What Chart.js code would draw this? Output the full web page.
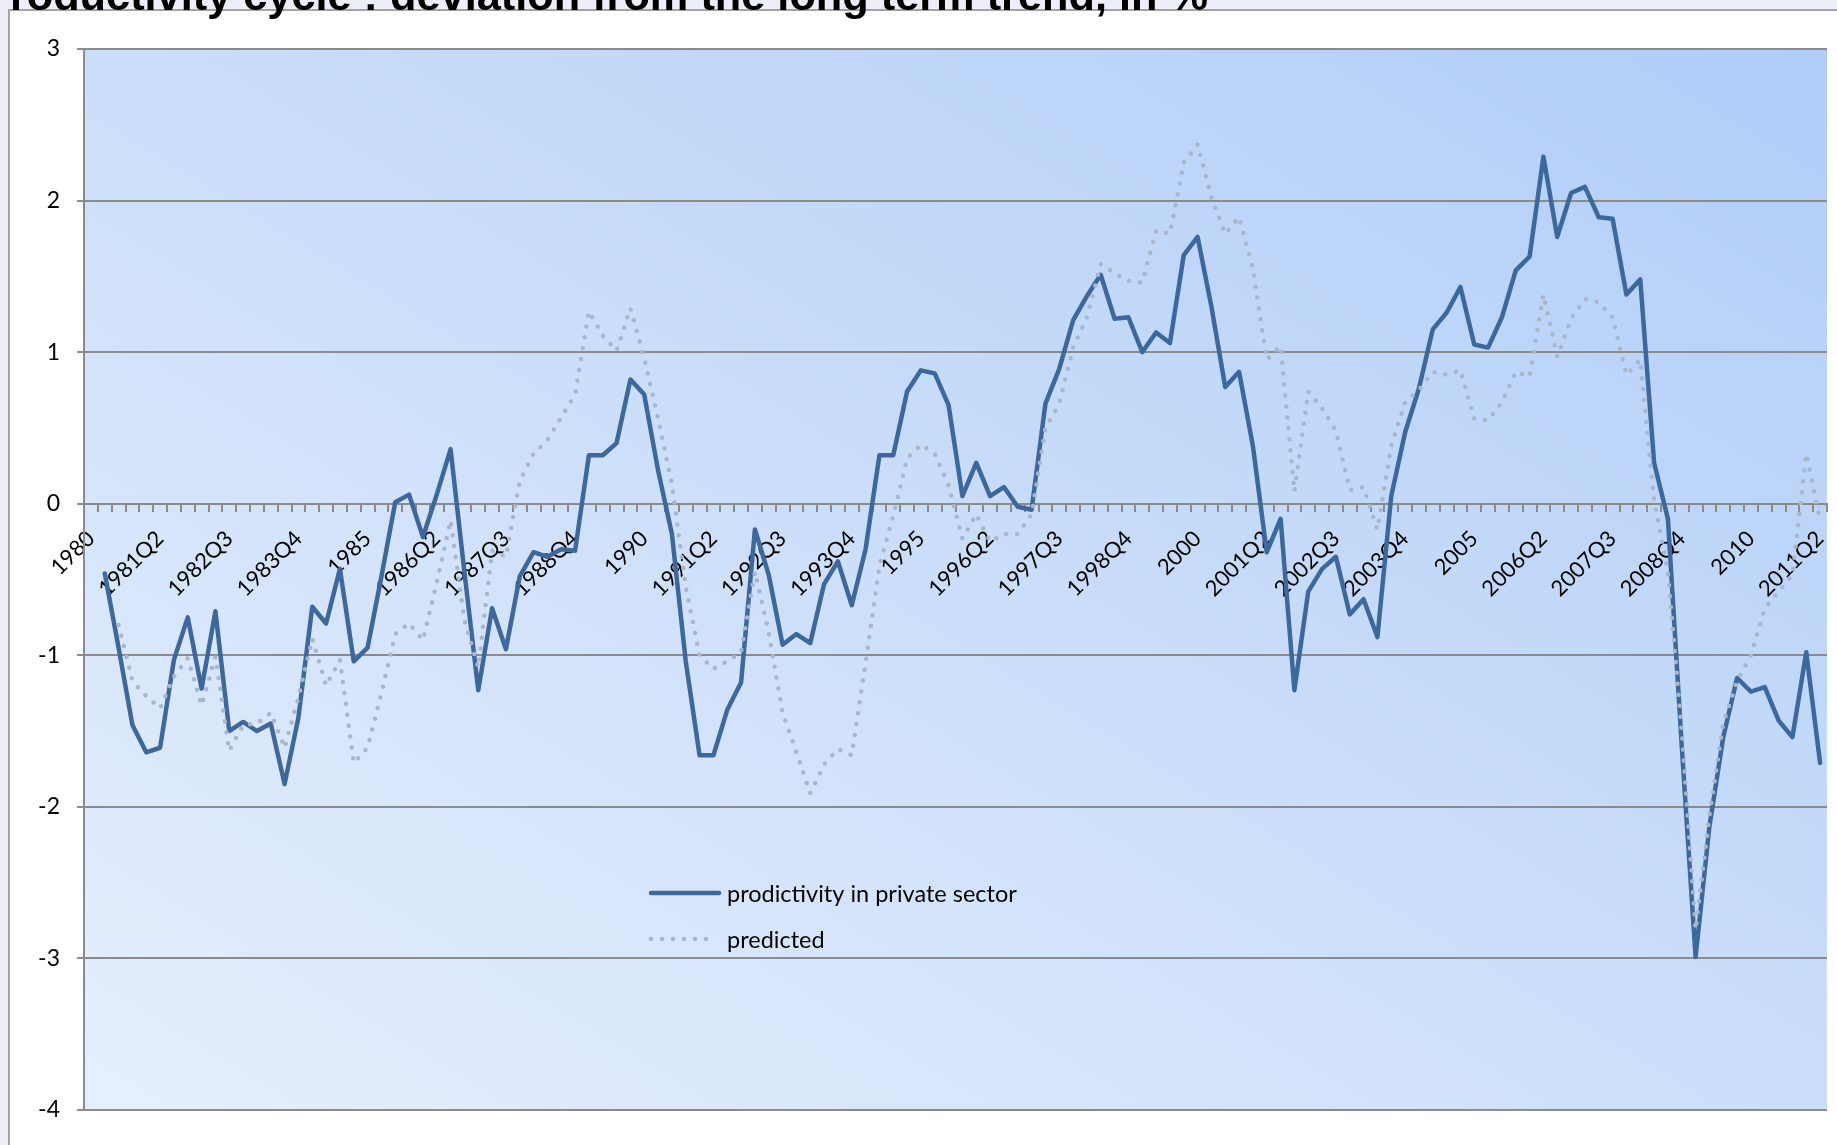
<!DOCTYPE html>
<html>
<head>
<meta charset="utf-8">
<script src="https://cdn.jsdelivr.net/npm/chart.js@4.4.1/dist/chart.umd.min.js"></script>
<style>
  html, body { margin: 0; padding: 0; width: 1837px; height: 1145px; overflow: hidden; background: #eeeef9; }
  #frame { position: absolute; left: 8px; top: 9px; width: 1829px; height: 1136px; background: #ffffff;
           border-left: 2px solid #a3a3a3; border-top: 2px solid #a3a3a3; }
  #wrap { position: absolute; left: 0; top: 0; width: 1837px; height: 1145px; z-index: 1; }
  #title { position: absolute; left: -19px; top: -26px; z-index: 2; white-space: nowrap; color: #000;
           font: bold 43.3px "Liberation Sans", Arial, sans-serif; line-height: 43px; }
</style>
</head>
<body>
<div id="frame"></div>
<div id="wrap"><canvas id="chart"></canvas></div>
<div id="title">Productivity cycle : deviation from the long term trend, in %</div>
<script>
// Quarterly categories 1980Q1 .. 2011Q2
const firstYear = 1980;
const quarterCount = 126;
const categories = [];
for (let k = 0; k < quarterCount; k++) {
  categories.push((firstYear + Math.floor(k / 4)) + 'Q' + (k % 4 + 1));
}

// Axis labels shown every fifth quarter
const tickLabels = ['1980', '1981Q2', '1982Q3', '1983Q4', '1985', '1986Q2', '1987Q3', '1988Q4',
  '1990', '1991Q2', '1992Q3', '1993Q4', '1995', '1996Q2', '1997Q3', '1998Q4',
  '2000', '2001Q2', '2002Q3', '2003Q4', '2005', '2006Q2', '2007Q3', '2008Q4', '2010', '2011Q2'];

// Productivity in the private sector, deviation from trend (%)
const productivity = [
  null, -0.46, -0.95, -1.46, -1.64, -1.61, -1.03, -0.75, -1.22, -0.71,
  -1.50, -1.44, -1.50, -1.45, -1.85, -1.41, -0.68, -0.79, -0.43, -1.04,
  -0.95, -0.48, 0.01, 0.06, -0.22, 0.06, 0.36, -0.45, -1.23, -0.69,
  -0.96, -0.48, -0.32, -0.35, -0.30, -0.31, 0.32, 0.32, 0.40, 0.82,
  0.72, 0.22, -0.20, -1.04, -1.66, -1.66, -1.36, -1.18, -0.17, -0.47,
  -0.93, -0.86, -0.92, -0.53, -0.38, -0.67, -0.30, 0.32, 0.32, 0.74,
  0.88, 0.86, 0.65, 0.05, 0.27, 0.05, 0.11, -0.02, -0.04, 0.66,
  0.89, 1.21, 1.37, 1.51, 1.22, 1.23, 1.00, 1.13, 1.06, 1.64,
  1.76, 1.30, 0.77, 0.87, 0.38, -0.32, -0.10, -1.23, -0.58, -0.43,
  -0.35, -0.73, -0.63, -0.88, 0.05, 0.47, 0.76, 1.15, 1.26, 1.43,
  1.05, 1.03, 1.23, 1.54, 1.63, 2.29, 1.76, 2.05, 2.09, 1.89,
  1.88, 1.38, 1.48, 0.27, -0.10, -1.60, -2.99, -2.13, -1.54, -1.15,
  -1.24, -1.21, -1.43, -1.54, -0.98, -1.71
];

// Model prediction (%)
const predicted = [
  null, null, -0.80, -1.17, -1.27, -1.35, -1.14, -1.02, -1.33, -1.01,
  -1.63, -1.46, -1.45, -1.38, -1.61, -1.28, -0.89, -1.20, -1.03, -1.71,
  -1.61, -1.25, -0.86, -0.79, -0.90, -0.52, -0.11, -0.77, -1.08, -0.31,
  -0.35, 0.15, 0.33, 0.42, 0.57, 0.72, 1.27, 1.11, 1.01, 1.29,
  0.96, 0.56, 0.13, -0.55, -1.00, -1.09, -1.04, -0.98, -0.45, -0.85,
  -1.38, -1.64, -1.91, -1.72, -1.62, -1.66, -1.05, -0.41, -0.08, 0.30,
  0.39, 0.33, 0.12, -0.23, -0.07, -0.25, -0.20, -0.20, -0.07, 0.50,
  0.66, 1.03, 1.23, 1.58, 1.52, 1.47, 1.46, 1.80, 1.78, 2.25,
  2.37, 2.02, 1.78, 1.89, 1.55, 0.95, 1.04, 0.08, 0.74, 0.63,
  0.48, 0.09, 0.11, -0.17, 0.38, 0.67, 0.75, 0.87, 0.85, 0.88,
  0.56, 0.55, 0.67, 0.87, 0.84, 1.38, 0.97, 1.22, 1.35, 1.33,
  1.23, 0.85, 0.95, 0.02, -0.45, -1.50, -2.81, -2.06, -1.45, -1.17,
  -1.00, -0.69, -0.58, -0.47, 0.33, -0.11
];

const seriesNames = ['prodictivity in private sector', 'predicted'];

const solidColor = '#3d689d';
const dotColor = '#a9b7cd';
const gridColor = '#8b8b8b';
const valueFont = { family: 'Lato', size: 23 };
const dateFont = { family: 'Lato', size: 22 };

// Gradient fill behind the plot area (light at lower left, deeper blue at upper right)
const plotBackground = {
  id: 'plotBackground',
  beforeDraw(chart) {
    const { ctx, chartArea: a } = chart;
    const w = a.right - a.left, h = a.bottom - a.top;
    const k = (2 * w * h) / (w * w + h * h);
    const g = ctx.createLinearGradient(a.left, a.bottom, a.left + h * k, a.bottom - w * k);
    g.addColorStop(0, '#e6effd');
    g.addColorStop(0.5, '#cbdef9');
    g.addColorStop(1, '#b0cdf8');
    ctx.save();
    ctx.fillStyle = g;
    ctx.fillRect(a.left, a.top, w, h);
    ctx.restore();
  }
};

// Legend placed inside the plot, lower middle
const insideLegend = {
  id: 'insideLegend',
  afterDraw(chart) {
    const { ctx, chartArea: a } = chart;
    const x0 = a.left + 567, y0 = a.top + 844, rowGap = 46, sampleLen = 68;
    ctx.save();
    ctx.font = '23.5px Lato';
    ctx.textBaseline = 'middle';
    ctx.fillStyle = '#000';
    chart.data.datasets.slice().sort((p, q) => p.legendRank - q.legendRank).forEach((ds, r) => {
      const y = y0 + r * rowGap;
      ctx.beginPath();
      ctx.strokeStyle = ds.borderColor;
      ctx.lineWidth = ds.borderWidth;
      ctx.lineCap = 'round';
      ctx.setLineDash(ds.borderDash || []);
      ctx.moveTo(x0, y);
      ctx.lineTo(x0 + (ds.borderDash ? sampleLen - 10 : sampleLen), y);
      ctx.stroke();
      ctx.setLineDash([]);
      ctx.fillText(ds.label, x0 + sampleLen + 8, y + 1);
    });
    ctx.restore();
  }
};

new Chart(document.getElementById('chart'), {
  type: 'line',
  data: {
    labels: categories,
    datasets: [
      {
        label: seriesNames[0], legendRank: 0, data: productivity, order: 1,
        borderColor: solidColor, borderWidth: 4.5, pointRadius: 0, tension: 0,
        borderJoinStyle: 'round', borderCapStyle: 'round', fill: false
      },
      {
        label: seriesNames[1], legendRank: 1, data: predicted, order: 0,
        borderColor: dotColor, borderWidth: 4.5, borderDash: [0, 11], borderCapStyle: 'round',
        pointRadius: 0, tension: 0, fill: false
      }
    ]
  },
  options: {
    responsive: true,
    maintainAspectRatio: false,
    animation: false,
    layout: { padding: { top: 49, bottom: 35, right: 10, left: 0 } },
    plugins: { legend: { display: false }, tooltip: { enabled: false } },
    scales: {
      x: {
        type: 'category',
        position: { y: 0 },
        offset: true,
        grid: { drawOnChartArea: false, drawTicks: true, tickLength: 7, offset: true, color: gridColor, lineWidth: 2 },
        border: { display: true, color: gridColor, width: 2 },
        ticks: {
          autoSkip: false, minRotation: 45, maxRotation: 45, padding: 15,
          color: '#000', font: dateFont,
          callback: (v, i) => (i % 5 === 0 ? tickLabels[i / 5] : '')
        },
        // the axis sits across the middle of the plot, so its labels need no side margins
        afterFit(s) { s.paddingLeft = 0; s.paddingRight = 0; }
      },
      y: {
        min: -4, max: 3,
        grid: { color: gridColor, lineWidth: 2, tickLength: 7, drawTicks: true },
        border: { display: true, color: gridColor, width: 2 },
        ticks: { stepSize: 1, padding: 17, color: '#000', font: valueFont },
        afterFit(s) { s.width = 84; }
      }
    }
  },
  plugins: [plotBackground, insideLegend]
});
</script>
</body>
</html>
